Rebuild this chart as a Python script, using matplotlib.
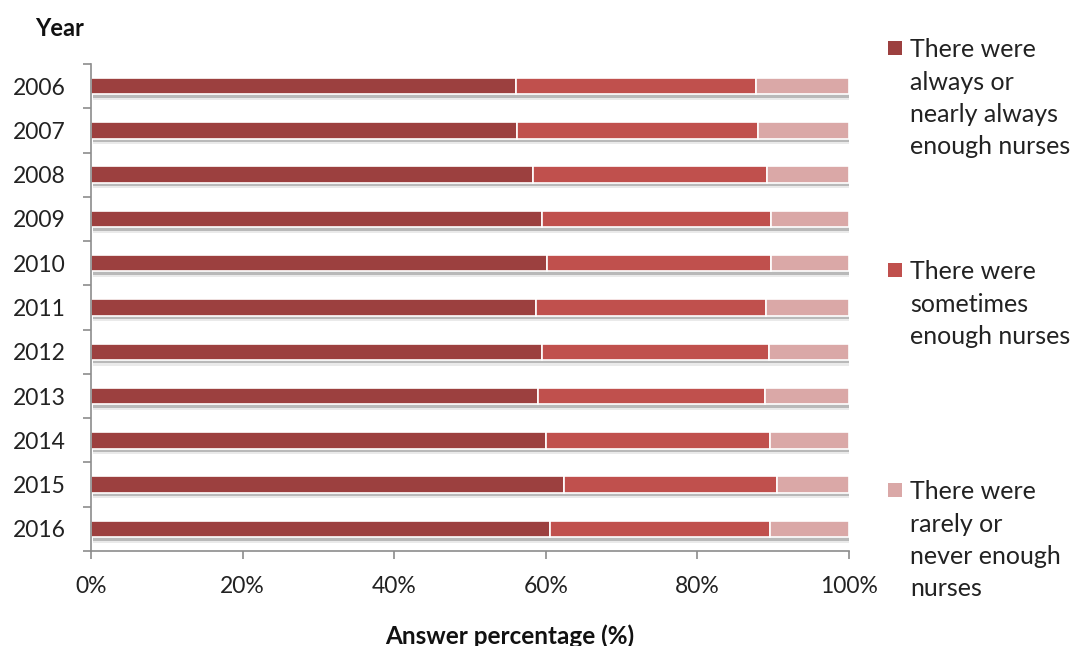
import matplotlib
matplotlib.use("Agg")
import matplotlib.pyplot as plt
import matplotlib.patheffects as pe
from matplotlib.patches import Rectangle
from matplotlib.ticker import FixedLocator, PercentFormatter
import numpy as np

plt.rcParams['font.family'] = ['Lato', 'DejaVu Sans']

years = ['2006', '2007', '2008', '2009', '2010', '2011',
         '2012', '2013', '2014', '2015', '2016']
always = [56.1, 56.2, 58.3, 59.5, 60.2, 58.7, 59.5, 59.0, 60.0, 62.4, 60.6]
sometimes = [31.6, 31.8, 30.9, 30.2, 29.5, 30.4, 29.9, 29.9, 29.6, 28.1, 29.0]
rarely = [12.3, 12.0, 10.8, 10.3, 10.3, 10.9, 10.6, 11.1, 10.4, 9.5, 10.4]

labels = ['There were\nalways or\nnearly always\nenough nurses',
          'There were\nsometimes\nenough nurses',
          'There were\nrarely or\nnever enough\nnurses']
colors = ['#9C403F', '#C0504D', '#DAA8A7']

fig = plt.figure(figsize=(10.72, 6.46), dpi=100)
ax = fig.add_axes([91 / 1072, 1 - 551 / 646, 758 / 1072, 487 / 646])

y = np.arange(len(years))
# soft drop shadow under each bar segment
shadow = [pe.SimplePatchShadow(offset=(1.5, -4), shadow_rgbFace='#909090', alpha=0.18),
          pe.SimplePatchShadow(offset=(1.5, -2.5), shadow_rgbFace='#707070', alpha=0.4),
          pe.Normal()]
left = np.zeros(len(years))
for vals, col in zip([always, sometimes, rarely], colors):
    bars = ax.barh(y, vals, left=left, height=0.37, color=col,
                   edgecolor='white', linewidth=1.2)
    for b in bars:
        b.set_path_effects(shadow)
    left += np.array(vals)

ax.set_xlim(0, 100)
ax.set_ylim(len(years) - 0.5, -0.5)
ax.set_xticks(np.arange(0, 101, 20))
ax.xaxis.set_major_formatter(PercentFormatter(decimals=0))
ax.set_yticks(y)
ax.set_yticklabels(years)
ax.yaxis.set_minor_locator(FixedLocator(np.arange(-0.5, len(years), 1)))

for side in ['top', 'right']:
    ax.spines[side].set_visible(False)
for side in ['left', 'bottom']:
    ax.spines[side].set_color('#8c8c8c')
    ax.spines[side].set_linewidth(1.2)

ax.tick_params(axis='y', which='major', length=0, pad=18, labelsize=16.5, colors='#222222')
ax.tick_params(axis='y', which='minor', length=6, width=1.2, color='#8c8c8c', direction='out')
ax.tick_params(axis='x', length=6, width=1.2, color='#8c8c8c', pad=12,
               labelsize=16.5, labelcolor='#222222')

fig.text(35 / 1072, 1 - 28 / 646, 'Year', fontsize=17, fontweight='bold',
         va='center', ha='left', color='#111111')
fig.text(510 / 1072, 1 - 636 / 646, 'Answer percentage (%)', fontsize=17.5,
         fontweight='bold', va='center', ha='center', color='#111111')

# legend entries on the right
entry_tops = [48, 270, 490]
for lab, col, ty in zip(labels, colors, entry_tops):
    fig.patches.append(Rectangle((888 / 1072, 1 - (ty + 7) / 646), 14 / 1072, 14 / 646,
                                 transform=fig.transFigure, facecolor=col,
                                 edgecolor='none'))
    fig.text(910 / 1072, 1 - (ty - 10) / 646, lab, fontsize=18, va='top',
             ha='left', linespacing=1.5, color='#222222')

fig.savefig('out.png', dpi=100)
